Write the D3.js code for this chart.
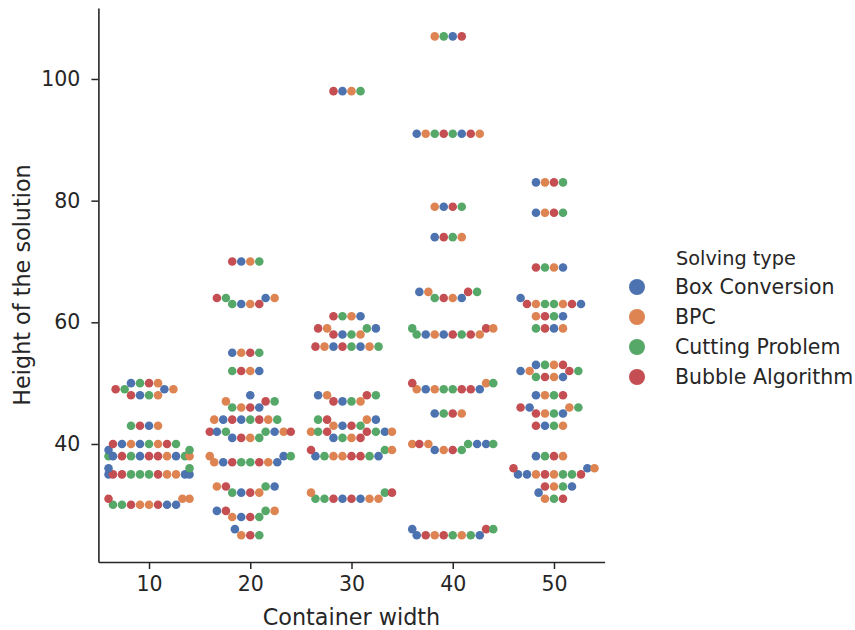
<!DOCTYPE html>
<html><head><meta charset="utf-8">
<script src="https://cdn.jsdelivr.net/npm/d3@7"></script>
<style>body{margin:0;background:#fff;} svg{display:block;font-family:"DejaVu Sans",sans-serif;}</style>
</head><body><svg id="chart" width="855" height="630"></svg>
<script>
// ---- data ----
const widths = [10, 20, 30, 40, 50];
const solvers = ["Box Conversion", "BPC", "Cutting Problem", "Bubble Algorithm"];
const solverCodes = ["B", "O", "G", "R"];
const palette = ["#4c72b0", "#dd8452", "#55a868", "#c44e52"];
const yTicks = [40, 60, 80, 100];
// each row: [height of the solution, solvers that reached it (one letter per point, left to right)]
const width10 = [[30,"GGROORBB"],[31,"ROO"],[35,"BRRGGGROOBB"],[36,"BG"],[38,"GBRGBRROBGO"],[39,"BG"],
  [40,"RBOBGORG"],[43,"GRBO"],[48,"RBGO"],[49,"RGBO"],[50,"BGRO"]];
const width20 = [[25,"ORG"],[26,"B"],[28,"OBRG"],[29,"BRGO"],[32,"GBRO"],[33,"ORGB"],[37,"OBRGGROB"],[38,"OBG"],
  [41,"BROG"],[42,"RBGGBOR"],[44,"OBRBGROG"],[46,"GORB"],[47,"ORG"],[48,"B"],[52,"GROB"],[55,"BORG"],
  [63,"GBOR"],[64,"RGBO"],[70,"RBOG"]];
const width30 = [[31,"GGRBRBOO"],[32,"OGR"],[38,"BGOORRGB"],[39,"RGO"],[41,"BGOR"],[42,"OGRRGBO"],[43,"OBRG"],
  [44,"GROB"],[47,"RBGO"],[48,"BORG"],[56,"ROBRGBOG"],[58,"RBGO"],[59,"ROGB"],[61,"RGOB"],[98,"RBOG"]];
const width40 = [[25,"BRORGOGB"],[26,"BRG"],[39,"BORG"],[40,"OROGBBG"],[45,"BGRO"],[49,"OBOGGRRB"],[50,"ROG"],
  [58,"GBOBRGRO"],[59,"GRO"],[64,"GROB"],[65,"BORG"],[74,"BRGO"],[79,"OBRG"],[91,"BOGRGBRO"],[107,"OGBR"]];
const width50 = [[31,"OGR"],[32,"B"],[33,"ROGB"],[35,"BBOROGGR"],[36,"RBO"],[38,"BGRO"],[43,"RBGO"],[45,"ROGB"],
  [46,"RBOG"],[48,"BOGR"],[51,"GROB"],[52,"BORG"],[53,"BGOR"],[59,"GRBO"],[61,"ORGB"],[63,"ROGGORB"],
  [64,"B"],[69,"RGOB"],[78,"BORG"],[83,"BORG"]];
const columns = [width10, width20, width30, width40, width50];

// ---- layout ----
const svg = d3.select("#chart");
const ink = "#262626";
const x = d3.scalePoint().domain(widths).range([98.4, 604.6]).padding(0.5);
const y = d3.scaleLinear().domain([20.6, 111.65]).range([562, 8.1]);
const r = 4.29;

// seaborn-like beeswarm (in pixel space)
function beeswarm(pts, mid) {
  const placed = [];
  for (const p of pts) {
    const nb = [];
    for (let k = placed.length - 1; k >= 0; k--) {
      if (Math.abs(p.py - placed[k].py) < 2 * r) nb.push(placed[k]); else break;
    }
    const cands = [{px: mid}];
    let leftFirst = true;
    for (const n of nb) {
      const dy = p.py - n.py;
      const dx = Math.sqrt(Math.max(4 * r * r - dy * dy, 0)) * 1.05;
      const cl = {px: n.px - dx}, cr = {px: n.px + dx};
      if (leftFirst) cands.push(cl, cr); else cands.push(cr, cl);
      leftFirst = !leftFirst;
    }
    cands.forEach(c => c.off = Math.abs(c.px - mid));
    cands.sort((a, b) => Math.abs(a.off - b.off) > 1e-6 ? a.off - b.off : a.px - b.px);
    let chosen = cands[0];
    if (nb.length) {
      chosen = cands.find(c => nb.every(n => (n.px - c.px) ** 2 + (n.py - p.py) ** 2 >= 4 * r * r - 1e-9));
    }
    p.px = chosen.px;
    placed.push(p);
  }
  return placed;
}

const points = [];
const half = 0.4 * x.step();
columns.forEach((rows, ci) => {
  const mid = x(widths[ci]);
  const pts = [];
  rows.slice().sort((a, b) => a[0] - b[0]).forEach(([h, s]) => {
    for (let i = 0; i < s.length; i++) pts.push({h, py: y(h), row: s});
  });
  beeswarm(pts, mid);
  pts.forEach(p => p.px = Math.max(mid - half, Math.min(mid + half, p.px)));
  d3.groups(pts, p => p.h).forEach(([h, g]) => {
    g.sort((a, b) => a.px - b.px);
    g.forEach((p, i) => { p.solver = solverCodes.indexOf(p.row[i]); points.push(p); });
  });
});

svg.append("g").selectAll("circle").data(points).join("circle")
  .attr("cx", d => d.px).attr("cy", d => d.py).attr("r", r)
  .attr("fill", d => palette[d.solver]);

// axes
const yAxis = svg.append("g").attr("transform", "translate(98.4,0)")
  .call(d3.axisLeft(y).tickValues(yTicks).tickSize(7).tickPadding(11).tickSizeOuter(0));
const xAxis = svg.append("g").attr("transform", "translate(0,562)")
  .call(d3.axisBottom(x).tickSize(7).tickPadding(7).tickSizeOuter(0));
[yAxis, xAxis].forEach(a => {
  a.select(".domain").attr("stroke", ink).attr("stroke-width", 1.6);
  a.selectAll(".tick line").attr("stroke", ink).attr("stroke-width", 1.5);
  a.selectAll(".tick text").attr("fill", ink).style("font-size", "20.5px").style("font-family", "DejaVu Sans");
});

svg.append("text").attr("x", 351.5).attr("y", 624.5).attr("text-anchor", "middle")
  .attr("fill", ink).style("font-size", "22.3px").text("Container width");
svg.append("text").attr("transform", "translate(29.5,285) rotate(-90)").attr("text-anchor", "middle")
  .attr("fill", ink).style("font-size", "22.3px").text("Height of the solution");

// legend
const lg = svg.append("g");
lg.append("text").attr("x", 676).attr("y", 265).attr("fill", ink).style("font-size", "19.3px").text("Solving type");
solvers.forEach((s, i) => {
  const yy = 287 + i * 30;
  lg.append("circle").attr("cx", 637).attr("cy", yy).attr("r", 8).attr("fill", palette[i]);
  lg.append("text").attr("x", 675).attr("y", yy + 7.4).attr("fill", ink).style("font-size", "20.5px").text(s);
});
</script></body></html>
